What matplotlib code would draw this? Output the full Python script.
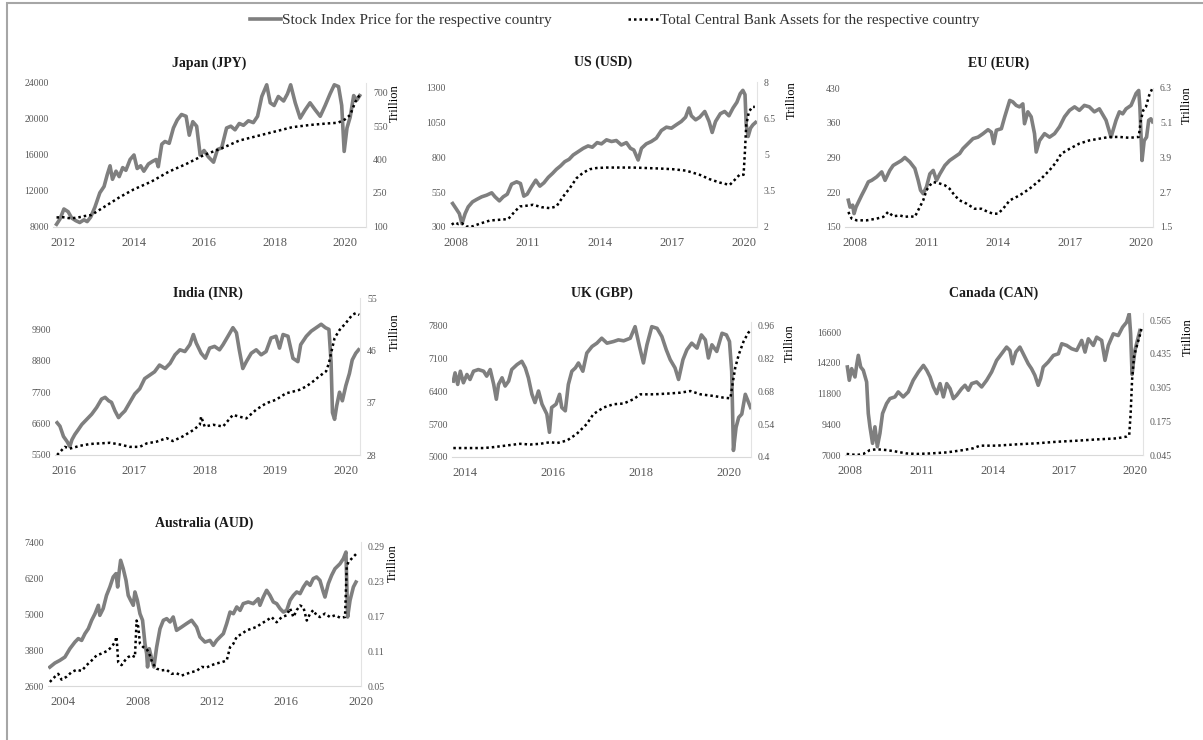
import matplotlib.pyplot as plt
from matplotlib.lines import Line2D
from matplotlib.patches import Rectangle

plt.rcParams['font.family'] = ['Liberation Serif', 'DejaVu Serif']

# (decimal year, value) pairs
jp_stock = [(2011.81, 8300), (2011.91, 8900), (2012.02, 10000), (2012.14, 9700), (2012.24, 9000),
            (2012.36, 8700), (2012.47, 8500), (2012.59, 8800), (2012.68, 8600), (2012.78, 9100),
            (2012.90, 10200), (2013.04, 11800), (2013.16, 12500), (2013.25, 13800), (2013.33, 14800),
            (2013.40, 13300), (2013.50, 14200), (2013.59, 13600), (2013.69, 14600), (2013.78, 14300),
            (2013.90, 15500), (2014.01, 16000), (2014.10, 14500), (2014.20, 14800), (2014.29, 14200),
            (2014.42, 15000), (2014.54, 15300), (2014.64, 15500), (2014.70, 14700), (2014.80, 17200),
            (2014.89, 17500), (2015.01, 17300), (2015.13, 19000), (2015.24, 19900), (2015.36, 20500),
            (2015.49, 20300), (2015.58, 18200), (2015.68, 19700), (2015.79, 19200), (2015.89, 16000),
            (2016.00, 16500), (2016.12, 15800), (2016.27, 15200), (2016.38, 16600), (2016.50, 16800),
            (2016.64, 19000), (2016.76, 19200), (2016.88, 18800), (2017.00, 19500), (2017.12, 19300),
            (2017.26, 19800), (2017.40, 19600), (2017.52, 20300), (2017.64, 22500), (2017.78, 23800),
            (2017.88, 21800), (2017.99, 21500), (2018.11, 22500), (2018.26, 22000), (2018.37, 22800),
            (2018.46, 23800), (2018.59, 21800), (2018.73, 20100), (2018.87, 21000), (2019.01, 21800),
            (2019.16, 21000), (2019.30, 20300), (2019.44, 21500), (2019.58, 22800), (2019.70, 23800),
            (2019.82, 23600), (2019.91, 21500), (2019.98, 16400), (2020.06, 19000), (2020.15, 20200),
            (2020.25, 22600), (2020.34, 22100), (2020.42, 22600)]
jp_assets = [(2011.81, 139), (2012.00, 140), (2012.20, 135), (2012.40, 138), (2012.60, 145),
             (2012.80, 150), (2013.00, 170), (2013.30, 200), (2013.60, 230), (2014.00, 265),
             (2014.50, 300), (2015.00, 345), (2015.50, 380), (2016.00, 420), (2016.50, 450),
             (2017.00, 485), (2017.50, 505), (2018.00, 525), (2018.50, 545), (2019.00, 555),
             (2019.50, 562), (2019.80, 565), (2020.00, 580), (2020.15, 600), (2020.30, 660),
             (2020.42, 690)]

us_stock = [(2007.86, 469), (2008.00, 433), (2008.14, 396), (2008.25, 324), (2008.38, 396),
            (2008.51, 445), (2008.69, 481), (2008.86, 498), (2009.07, 517), (2009.28, 529),
            (2009.49, 546), (2009.63, 517), (2009.81, 488), (2009.97, 517), (2010.14, 536),
            (2010.32, 608), (2010.53, 625), (2010.69, 613), (2010.83, 522), (2010.97, 536),
            (2011.15, 589), (2011.33, 637), (2011.50, 594), (2011.67, 618), (2011.85, 657),
            (2012.03, 686), (2012.19, 715), (2012.36, 739), (2012.54, 770), (2012.72, 787),
            (2012.89, 818), (2013.10, 842), (2013.31, 866), (2013.51, 883), (2013.69, 874),
            (2013.89, 907), (2014.07, 898), (2014.28, 927), (2014.49, 915), (2014.69, 922),
            (2014.90, 890), (2015.11, 907), (2015.28, 866), (2015.42, 854), (2015.60, 782),
            (2015.74, 866), (2015.94, 898), (2016.15, 915), (2016.36, 939), (2016.57, 994),
            (2016.78, 1018), (2016.99, 1011), (2017.19, 1035), (2017.40, 1059), (2017.58, 1090),
            (2017.72, 1156), (2017.82, 1100), (2018.00, 1071), (2018.17, 1090), (2018.38, 1131),
            (2018.56, 1059), (2018.69, 980), (2018.83, 1059), (2019.03, 1115), (2019.21, 1131),
            (2019.39, 1100), (2019.56, 1156), (2019.72, 1197), (2019.86, 1259), (2019.97, 1283),
            (2020.06, 1252), (2020.11, 1035), (2020.19, 951), (2020.29, 1011), (2020.39, 1035),
            (2020.50, 1052)]
us_assets = [(2007.82, 2.10), (2007.96, 2.19), (2008.10, 2.12), (2008.24, 2.16), (2008.42, 2.03),
             (2008.61, 2.00), (2009.00, 2.14), (2009.42, 2.27), (2009.83, 2.30), (2010.18, 2.33),
             (2010.46, 2.65), (2010.67, 2.85), (2010.94, 2.88), (2011.22, 2.92), (2011.57, 2.82),
             (2011.92, 2.78), (2012.19, 2.85), (2012.47, 3.26), (2012.75, 3.61), (2013.03, 4.02),
             (2013.31, 4.25), (2013.58, 4.39), (2013.86, 4.44), (2014.28, 4.46), (2014.83, 4.46),
             (2015.39, 4.46), (2015.94, 4.44), (2016.50, 4.42), (2017.06, 4.39), (2017.61, 4.33),
             (2018.17, 4.16), (2018.58, 3.98), (2019.00, 3.84), (2019.42, 3.74), (2019.63, 3.95),
             (2019.83, 4.16), (2020.00, 4.16), (2020.06, 5.19), (2020.11, 6.22), (2020.22, 6.76),
             (2020.36, 6.97), (2020.47, 6.97)]

eu_stock = [(2007.72, 204), (2007.79, 190), (2007.90, 194), (2007.96, 177), (2008.04, 190),
            (2008.14, 200), (2008.28, 214), (2008.42, 227), (2008.56, 241), (2008.70, 244),
            (2008.91, 251), (2009.12, 261), (2009.26, 244), (2009.46, 264), (2009.60, 274),
            (2009.74, 278), (2009.95, 284), (2010.09, 290), (2010.30, 281), (2010.51, 268),
            (2010.65, 244), (2010.75, 224), (2010.86, 217), (2011.00, 231), (2011.14, 257),
            (2011.28, 264), (2011.42, 244), (2011.56, 257), (2011.77, 274), (2011.97, 284),
            (2012.18, 291), (2012.39, 298), (2012.53, 308), (2012.74, 318), (2012.95, 328),
            (2013.16, 331), (2013.37, 338), (2013.58, 346), (2013.72, 341), (2013.82, 318),
            (2013.93, 345), (2014.14, 348), (2014.28, 372), (2014.49, 405), (2014.62, 402),
            (2014.76, 395), (2014.90, 392), (2015.04, 398), (2015.11, 358), (2015.25, 382),
            (2015.39, 372), (2015.53, 338), (2015.60, 301), (2015.74, 324), (2015.95, 338),
            (2016.16, 331), (2016.37, 338), (2016.58, 352), (2016.79, 372), (2017.00, 385),
            (2017.21, 392), (2017.41, 385), (2017.62, 395), (2017.83, 392), (2018.04, 382),
            (2018.25, 388), (2018.53, 365), (2018.74, 331), (2018.95, 365), (2019.09, 382),
            (2019.23, 378), (2019.37, 388), (2019.58, 395), (2019.79, 419), (2019.90, 425),
            (2019.95, 392), (2020.04, 284), (2020.13, 324), (2020.23, 331), (2020.32, 365),
            (2020.41, 368), (2020.48, 362)]
eu_assets = [(2007.72, 2.02), (2007.86, 1.79), (2008.07, 1.73), (2008.49, 1.73), (2008.91, 1.79),
             (2009.19, 1.85), (2009.39, 2.02), (2009.60, 1.87), (2009.88, 1.90), (2010.09, 1.85),
             (2010.30, 1.87), (2010.51, 1.85), (2010.65, 2.08), (2010.86, 2.42), (2011.00, 2.77),
             (2011.14, 2.94), (2011.28, 3.05), (2011.49, 3.02), (2011.77, 2.94), (2011.97, 2.82),
             (2012.18, 2.59), (2012.39, 2.42), (2012.67, 2.31), (2013.02, 2.13), (2013.30, 2.13),
             (2013.58, 2.02), (2013.79, 1.96), (2014.00, 1.96), (2014.21, 2.13), (2014.49, 2.42),
             (2014.90, 2.59), (2015.32, 2.82), (2015.74, 3.11), (2016.16, 3.46), (2016.44, 3.74),
             (2016.65, 4.03), (2017.00, 4.20), (2017.41, 4.38), (2017.83, 4.49), (2018.25, 4.55),
             (2018.67, 4.61), (2019.09, 4.61), (2019.51, 4.58), (2019.90, 4.61), (2019.99, 5.18),
             (2020.09, 5.53), (2020.20, 5.64), (2020.34, 6.05), (2020.48, 6.30)]

in_stock = [(2015.91, 6630), (2015.95, 6510), (2016.00, 6150), (2016.05, 5975), (2016.09, 5800),
            (2016.12, 6035), (2016.16, 6215), (2016.21, 6390), (2016.26, 6570), (2016.33, 6750),
            (2016.40, 6930), (2016.47, 7165), (2016.54, 7460), (2016.59, 7520), (2016.64, 7400),
            (2016.68, 7345), (2016.73, 7045), (2016.78, 6810), (2016.82, 6925), (2016.87, 7045),
            (2016.94, 7345), (2017.01, 7640), (2017.08, 7820), (2017.15, 8175), (2017.22, 8295),
            (2017.29, 8415), (2017.36, 8650), (2017.44, 8530), (2017.51, 8710), (2017.58, 9010),
            (2017.65, 9185), (2017.72, 9125), (2017.79, 9365), (2017.84, 9720), (2017.88, 9425),
            (2017.95, 9065), (2018.01, 8890), (2018.07, 9245), (2018.14, 9305), (2018.21, 9185),
            (2018.26, 9365), (2018.33, 9660), (2018.40, 9960), (2018.45, 9780), (2018.49, 9185),
            (2018.54, 8530), (2018.59, 8770), (2018.66, 9065), (2018.73, 9185), (2018.80, 9010),
            (2018.87, 9125), (2018.94, 9600), (2019.01, 9660), (2019.06, 9245), (2019.11, 9720),
            (2019.18, 9660), (2019.25, 8890), (2019.32, 8770), (2019.36, 9365), (2019.44, 9660),
            (2019.51, 9840), (2019.58, 9960), (2019.65, 10080), (2019.71, 9960), (2019.76, 9900),
            (2019.79, 8770), (2019.81, 6985), (2019.84, 6750), (2019.87, 7225), (2019.91, 7700),
            (2019.95, 7400), (2020.00, 7935), (2020.05, 8355), (2020.09, 8830), (2020.14, 9065),
            (2020.18, 9185)]
in_assets = [(2015.91, 28.0), (2015.98, 28.9), (2016.02, 29.4), (2016.09, 29.1), (2016.24, 29.6),
             (2016.38, 29.9), (2016.52, 30.0), (2016.66, 30.1), (2016.80, 29.8), (2016.94, 29.4),
             (2017.08, 29.4), (2017.18, 30.0), (2017.32, 30.3), (2017.46, 30.9), (2017.55, 30.4),
             (2017.69, 31.2), (2017.84, 32.3), (2017.93, 33.2), (2017.95, 34.6), (2018.00, 32.9),
             (2018.12, 33.2), (2018.26, 32.9), (2018.40, 34.9), (2018.49, 34.6), (2018.59, 34.3),
             (2018.73, 35.8), (2018.87, 36.9), (2019.01, 37.5), (2019.15, 38.6), (2019.25, 38.9),
             (2019.34, 39.2), (2019.44, 39.8), (2019.53, 40.6), (2019.62, 41.5), (2019.72, 42.4),
             (2019.76, 43.8), (2019.79, 45.5), (2019.84, 48.1), (2019.91, 49.5), (2020.00, 50.7),
             (2020.09, 52.1), (2020.14, 52.4), (2020.19, 52.1)]

uk_stock = [(2013.73, 6610), (2013.77, 6785), (2013.83, 6540), (2013.89, 6820), (2013.96, 6575),
            (2014.04, 6750), (2014.11, 6645), (2014.19, 6820), (2014.30, 6855), (2014.42, 6820),
            (2014.49, 6715), (2014.57, 6855), (2014.65, 6540), (2014.71, 6225), (2014.76, 6540),
            (2014.84, 6680), (2014.91, 6505), (2014.99, 6610), (2015.06, 6855), (2015.18, 6960),
            (2015.29, 7030), (2015.37, 6890), (2015.44, 6680), (2015.52, 6330), (2015.59, 6155),
            (2015.67, 6400), (2015.75, 6120), (2015.86, 5910), (2015.92, 5525), (2015.97, 6050),
            (2016.07, 6120), (2016.15, 6330), (2016.20, 6050), (2016.28, 5980), (2016.35, 6540),
            (2016.43, 6820), (2016.51, 6890), (2016.58, 6995), (2016.68, 6820), (2016.77, 7205),
            (2016.89, 7345), (2017.00, 7415), (2017.11, 7520), (2017.23, 7415), (2017.38, 7450),
            (2017.49, 7485), (2017.61, 7465), (2017.76, 7520), (2017.87, 7765), (2017.97, 7345),
            (2018.06, 6995), (2018.14, 7380), (2018.25, 7765), (2018.37, 7730), (2018.48, 7555),
            (2018.58, 7275), (2018.67, 7065), (2018.78, 6890), (2018.86, 6645), (2018.96, 7065),
            (2019.05, 7275), (2019.16, 7415), (2019.28, 7310), (2019.38, 7590), (2019.47, 7485),
            (2019.54, 7100), (2019.62, 7380), (2019.73, 7240), (2019.85, 7625), (2019.95, 7590),
            (2020.02, 7450), (2020.07, 6820), (2020.11, 5140), (2020.17, 5630), (2020.23, 5840),
            (2020.30, 5910), (2020.38, 6330), (2020.44, 6190), (2020.50, 6050)]
uk_assets = [(2013.73, 0.438), (2014.04, 0.438), (2014.42, 0.438), (2014.65, 0.442), (2014.95, 0.449),
             (2015.25, 0.456), (2015.48, 0.453), (2015.71, 0.456), (2015.94, 0.463), (2016.09, 0.459),
             (2016.32, 0.470), (2016.54, 0.498), (2016.77, 0.540), (2016.92, 0.582), (2017.15, 0.610),
             (2017.38, 0.624), (2017.61, 0.627), (2017.83, 0.645), (2017.99, 0.666), (2018.29, 0.666),
             (2018.60, 0.669), (2018.90, 0.673), (2019.13, 0.680), (2019.36, 0.666), (2019.66, 0.659),
             (2019.88, 0.652), (2020.04, 0.649), (2020.10, 0.722), (2020.15, 0.778), (2020.23, 0.834),
             (2020.34, 0.890), (2020.44, 0.925), (2020.50, 0.939)]

ca_stock = [(2007.89, 13880), (2007.97, 12840), (2008.07, 13750), (2008.21, 13100), (2008.28, 14010),
            (2008.35, 14790), (2008.45, 13880), (2008.56, 13620), (2008.70, 12710), (2008.77, 10245),
            (2008.84, 9205), (2008.95, 7910), (2009.05, 9205), (2009.15, 7650), (2009.26, 8690),
            (2009.37, 10245), (2009.54, 11020), (2009.68, 11410), (2009.89, 11540), (2010.03, 11930),
            (2010.24, 11540), (2010.45, 11930), (2010.66, 12840), (2010.88, 13490), (2011.09, 14005),
            (2011.23, 13620), (2011.37, 13100), (2011.51, 12320), (2011.65, 11800), (2011.79, 12580),
            (2011.93, 11540), (2012.07, 12580), (2012.21, 12190), (2012.35, 11410), (2012.49, 11670),
            (2012.70, 12190), (2012.84, 12450), (2012.98, 12060), (2013.12, 12580), (2013.33, 12710),
            (2013.54, 12320), (2013.75, 12840), (2013.96, 13490), (2014.17, 14395), (2014.38, 14915),
            (2014.59, 15435), (2014.73, 15175), (2014.84, 14135), (2014.98, 15045), (2015.15, 15435),
            (2015.29, 14915), (2015.50, 14135), (2015.64, 13745), (2015.78, 13230), (2015.92, 12450),
            (2016.02, 12970), (2016.13, 13875), (2016.34, 14265), (2016.56, 14785), (2016.77, 14915),
            (2016.91, 15695), (2017.12, 15565), (2017.33, 15305), (2017.54, 15175), (2017.75, 15955),
            (2017.89, 15045), (2018.03, 16080), (2018.24, 15565), (2018.38, 16210), (2018.59, 15955),
            (2018.73, 14395), (2018.87, 15565), (2019.08, 16470), (2019.29, 16340), (2019.47, 16990),
            (2019.64, 17380), (2019.75, 18030), (2019.81, 16470), (2019.87, 13300), (2019.92, 14135),
            (2019.99, 15175), (2020.13, 16210), (2020.20, 16730)]
ca_assets = [(2007.86, 0.049), (2008.28, 0.045), (2008.56, 0.049), (2008.84, 0.064), (2009.12, 0.067),
             (2009.54, 0.064), (2009.96, 0.058), (2010.38, 0.051), (2010.81, 0.049), (2011.37, 0.051),
             (2012.07, 0.055), (2012.77, 0.064), (2013.19, 0.071), (2013.47, 0.081), (2014.17, 0.081),
             (2015.01, 0.086), (2015.85, 0.090), (2016.70, 0.096), (2017.54, 0.100), (2018.38, 0.105),
             (2019.22, 0.109), (2019.64, 0.116), (2019.75, 0.122), (2019.81, 0.205), (2019.87, 0.334),
             (2019.95, 0.424), (2020.06, 0.462), (2020.20, 0.507), (2020.27, 0.533)]

au_stock = [(2003.28, 3230), (2003.55, 3365), (2003.82, 3455), (2004.09, 3565), (2004.36, 3845),
            (2004.63, 4065), (2004.81, 4180), (2004.99, 4120), (2005.17, 4345), (2005.35, 4510),
            (2005.53, 4790), (2005.71, 5010), (2005.89, 5290), (2005.97, 4955), (2006.15, 5180),
            (2006.33, 5620), (2006.51, 5900), (2006.69, 6235), (2006.84, 6345), (2006.93, 5900),
            (2007.02, 6455), (2007.09, 6790), (2007.23, 6510), (2007.38, 6120), (2007.50, 5620),
            (2007.63, 5455), (2007.77, 5290), (2007.86, 5735), (2007.99, 5455), (2008.13, 5010),
            (2008.27, 4790), (2008.40, 4010), (2008.49, 3680), (2008.54, 3235), (2008.63, 3845),
            (2008.76, 3510), (2008.88, 3235), (2009.03, 3900), (2009.21, 4510), (2009.39, 4790),
            (2009.57, 4845), (2009.75, 4735), (2009.92, 4900), (2010.10, 4455), (2010.37, 4565),
            (2010.64, 4680), (2010.91, 4790), (2011.18, 4565), (2011.36, 4235), (2011.63, 4065),
            (2011.90, 4120), (2012.08, 3955), (2012.26, 4120), (2012.44, 4235), (2012.62, 4345),
            (2012.80, 4680), (2012.98, 5065), (2013.16, 5010), (2013.34, 5235), (2013.52, 5120),
            (2013.69, 5345), (2013.96, 5400), (2014.23, 5345), (2014.50, 5510), (2014.59, 5290),
            (2014.77, 5565), (2014.95, 5790), (2015.13, 5620), (2015.31, 5400), (2015.49, 5345),
            (2015.67, 5180), (2015.85, 5065), (2016.03, 5120), (2016.21, 5455), (2016.39, 5620),
            (2016.57, 5735), (2016.75, 5680), (2016.93, 5900), (2017.11, 6065), (2017.29, 5955),
            (2017.46, 6180), (2017.64, 6235), (2017.82, 6120), (2018.00, 5735), (2018.09, 5565),
            (2018.27, 6010), (2018.45, 6290), (2018.63, 6510), (2018.90, 6675), (2019.08, 6845),
            (2019.22, 7065), (2019.31, 4900), (2019.44, 5455), (2019.62, 5900), (2019.76, 6065)]
au_assets = [(2003.28, 0.057), (2003.55, 0.066), (2003.73, 0.071), (2003.91, 0.061), (2004.18, 0.066),
             (2004.45, 0.074), (2004.72, 0.078), (2004.99, 0.076), (2005.26, 0.086), (2005.53, 0.094),
             (2005.80, 0.103), (2006.06, 0.106), (2006.33, 0.110), (2006.60, 0.117), (2006.78, 0.126),
             (2006.87, 0.135), (2006.96, 0.091), (2007.14, 0.086), (2007.32, 0.094), (2007.50, 0.100),
             (2007.68, 0.103), (2007.86, 0.100), (2007.95, 0.163), (2008.04, 0.152), (2008.13, 0.123),
             (2008.31, 0.117), (2008.49, 0.114), (2008.63, 0.106), (2008.81, 0.089), (2009.03, 0.080),
             (2009.30, 0.077), (2009.57, 0.078), (2009.83, 0.071), (2010.10, 0.072), (2010.37, 0.068),
             (2010.64, 0.071), (2010.91, 0.074), (2011.18, 0.076), (2011.45, 0.083), (2011.72, 0.082),
             (2011.99, 0.086), (2012.26, 0.089), (2012.53, 0.091), (2012.80, 0.094), (2012.98, 0.117),
             (2013.16, 0.123), (2013.34, 0.135), (2013.61, 0.140), (2013.87, 0.146), (2014.14, 0.149),
             (2014.41, 0.152), (2014.68, 0.158), (2014.95, 0.163), (2015.22, 0.169), (2015.49, 0.160),
             (2015.76, 0.169), (2016.03, 0.172), (2016.21, 0.184), (2016.39, 0.169), (2016.57, 0.181),
             (2016.75, 0.189), (2016.93, 0.186), (2017.11, 0.163), (2017.29, 0.175), (2017.46, 0.181),
             (2017.64, 0.172), (2017.82, 0.169), (2018.09, 0.175), (2018.36, 0.169), (2018.63, 0.172),
             (2018.90, 0.168), (2019.17, 0.169), (2019.26, 0.255), (2019.35, 0.264), (2019.53, 0.270),
             (2019.71, 0.276), (2019.80, 0.279)]

# axis ticks
jp_years, jp_left, jp_right = [2012, 2014, 2016, 2018, 2020], [8000, 12000, 16000, 20000, 24000], [100, 250, 400, 550, 700]
us_years, us_left, us_right = [2008, 2011, 2014, 2017, 2020], [300, 550, 800, 1050, 1300], [2, 3.5, 5, 6.5, 8]
eu_years, eu_left, eu_right = [2008, 2011, 2014, 2017, 2020], [150, 220, 290, 360, 430], [1.5, 2.7, 3.9, 5.1, 6.3]
in_years, in_left, in_right = [2016, 2017, 2018, 2019, 2020], [5500, 6600, 7700, 8800, 9900], [28, 37, 46, 55]
uk_years, uk_left, uk_right = [2014, 2016, 2018, 2020], [5000, 5700, 6400, 7100, 7800], [0.4, 0.54, 0.68, 0.82, 0.96]
ca_years, ca_left, ca_right = [2008, 2011, 2014, 2017, 2020], [7000, 9400, 11800, 14200, 16600], [0.045, 0.175, 0.305, 0.435, 0.565]
au_years, au_left, au_right = [2004, 2008, 2012, 2016, 2020], [2600, 3800, 5000, 6200, 7400], [0.05, 0.11, 0.17, 0.23, 0.29]

W, H = 1203, 740
GREY = '#7f7f7f'
TXT = '#595959'
DOTS = (0, (1, 1.2))

# box = (left, right, top, bottom) in pixels; lab = "Trillion" centre in pixels
panels = [
    dict(title='Japan (JPY)', stock=jp_stock, assets=jp_assets, years=jp_years, lt=jp_left, rt=jp_right,
         box=(53, 366, 83, 227), xlim=(2011.71, 2020.6), ylim=(8000, 24000), y2lim=(96, 744),
         ty=63, lab=(395, 103)),
    dict(title='US (USD)', stock=us_stock, assets=us_assets, years=us_years, lt=us_left, rt=us_right,
         box=(450, 757, 82, 227), xlim=(2007.75, 2020.56), ylim=(300, 1343), y2lim=(2, 8),
         ty=62, lab=(792, 100)),
    dict(title='EU (EUR)', stock=eu_stock, assets=eu_assets, years=eu_years, lt=eu_left, rt=eu_right,
         box=(845, 1153, 88, 227), xlim=(2007.58, 2020.5), ylim=(150, 430), y2lim=(1.5, 6.3),
         ty=63, lab=(1187, 105)),
    dict(title='India (INR)', stock=in_stock, assets=in_assets, years=in_years, lt=in_left, rt=in_right,
         box=(55, 360, 298, 455), xlim=(2015.88, 2020.2), ylim=(5500, 11000), y2lim=(28, 55),
         ty=293, lab=(395, 332)),
    dict(title='UK (GBP)', stock=uk_stock, assets=uk_assets, years=uk_years, lt=uk_left, rt=uk_right,
         box=(452, 751, 322, 457), xlim=(2013.70, 2020.51), ylim=(5000, 7864), y2lim=(0.4, 0.973),
         ty=293, lab=(790, 343)),
    dict(title='Canada (CAN)', stock=ca_stock, assets=ca_assets, years=ca_years, lt=ca_left, rt=ca_right,
         box=(845, 1143, 313, 455), xlim=(2007.79, 2020.33), ylim=(7000, 18100), y2lim=(0.045, 0.592),
         ty=293, lab=(1188, 337)),
    dict(title='Australia (AUD)', stock=au_stock, assets=au_assets, years=au_years, lt=au_left, rt=au_right,
         box=(48, 361, 542, 686), xlim=(2003.18, 2020.03), ylim=(2600, 7400), y2lim=(0.05, 0.2986),
         ty=523, lab=(393, 563)),
]

fig = plt.figure(figsize=(W / 100, H / 100), dpi=100)

for p in panels:
    l, r, t, b = p['box']
    ax = fig.add_axes([l / W, 1 - b / H, (r - l) / W, (b - t) / H])
    ax2 = ax.twinx()

    sx, sy = zip(*p['stock'])
    ax.plot(sx, sy, color=GREY, lw=2.6, solid_joinstyle='round')
    ax.set_xlim(*p['xlim'])
    ax.set_ylim(*p['ylim'])
    ax.set_xticks(p['years'])
    ax.set_xticklabels([str(y) for y in p['years']])
    ax.set_yticks(p['lt'])
    ax.set_yticklabels([f'{v:g}' for v in p['lt']])

    cx, cy = zip(*p['assets'])
    ax2.plot(cx, cy, color='black', lw=1.8, ls=DOTS)
    ax2.set_ylim(*p['y2lim'])
    ax2.set_yticks(p['rt'])
    ax2.set_yticklabels([f'{v:g}' for v in p['rt']])

    for a in (ax, ax2):
        for side in ('top', 'left', 'right'):
            a.spines[side].set_visible(False)
        a.spines['bottom'].set_color('#d9d9d9')
    ax2.spines['right'].set_visible(True)
    ax2.spines['right'].set_color('#e3e3e3')
    ax2.spines['bottom'].set_visible(False)

    ax.tick_params(axis='x', length=0, pad=7, labelsize=9, labelcolor=TXT)
    ax.tick_params(axis='y', length=0, pad=3, labelsize=7, labelcolor=TXT)
    ax2.tick_params(axis='y', length=0, pad=5, labelsize=7, labelcolor=TXT)

    fig.text((l + r) / 2 / W, 1 - p['ty'] / H, p['title'], ha='center', va='center',
             fontsize=10, fontweight='bold', color='#1a1a1a')
    fig.text(p['lab'][0] / W, 1 - p['lab'][1] / H, 'Trillion', rotation=90,
             ha='center', va='center', fontsize=9, color='black')

handles = [Line2D([], [], color=GREY, lw=2.6),
           Line2D([], [], color='black', lw=1.8, ls=DOTS)]
fig.legend(handles, ['Stock Index Price for the respective country',
                     'Total Central Bank Assets for the respective country'],
           loc='center', bbox_to_anchor=(615 / W, 1 - 20 / H), ncol=2, frameon=False,
           fontsize=11, handlelength=2.0, handletextpad=0.1, columnspacing=5,
           labelcolor='#333333')

# outer frame on the top and left edges
fig.add_artist(Rectangle((7 / W, -0.05), 1.2, 1.05 - 3 / H, transform=fig.transFigure,
                         fill=False, edgecolor='#a6a6a6', lw=1.5))

fig.savefig('out.png', dpi=100)
